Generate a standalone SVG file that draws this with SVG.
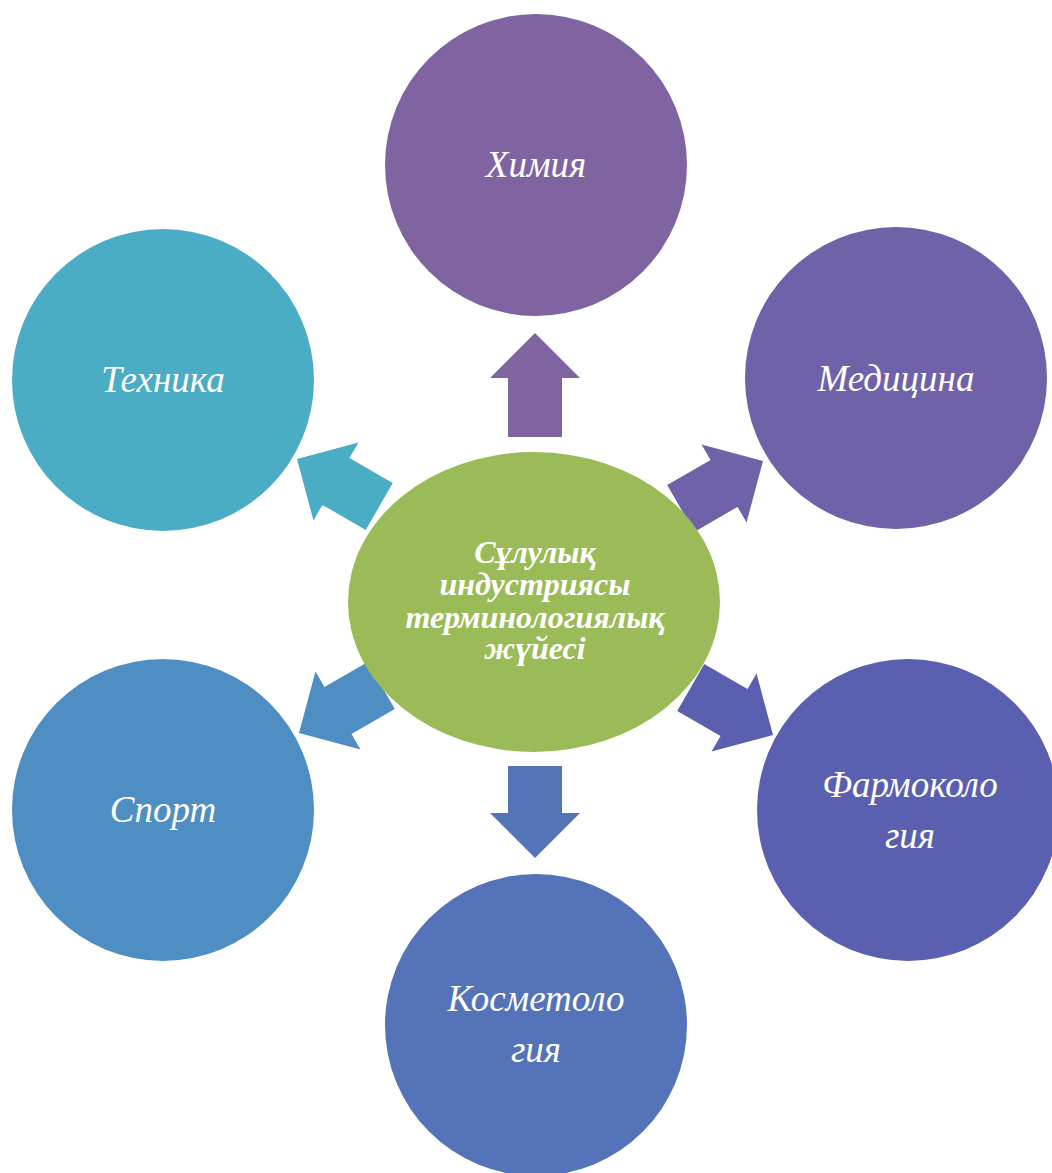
<svg xmlns="http://www.w3.org/2000/svg" width="1052" height="1173" viewBox="0 0 1052 1173">
<style>
.t{font-family:"Liberation Serif","Times New Roman",serif;font-style:italic;fill:#fff;font-size:37px;text-anchor:middle}
.c{font-family:"Liberation Serif","Times New Roman",serif;font-style:italic;font-weight:bold;fill:#fff;font-size:32px;text-anchor:middle}
</style>
<defs>
<polygon id="arr" points="0,-27 50,-27 50,-45 95,0 50,45 50,27 0,27"/>
</defs>
<rect width="1052" height="1173" fill="#fff"/>
<g id="connectors">
<polygon fill="#8064A2" points="508,437 508,378 490,378 535,333 580,378 562,378 562,437"/>
<polygon fill="#5573B9" points="508,766 508,813 490,813 535,858 580,813 562,813 562,766"/>
<use href="#arr" fill="#6F62A8" transform="translate(763,461) rotate(-30) translate(-95,0)"/>
<use href="#arr" fill="#4BACC6" transform="translate(297,459) rotate(-150) translate(-95,0)"/>
<use href="#arr" fill="#4F8EC3" transform="translate(299,733) rotate(150) translate(-95,0)"/>
<use href="#arr" fill="#5A5FB0" transform="translate(773,735) rotate(30) translate(-95,0)"/>
</g>
<g id="n-himiya"><circle cx="536" cy="165" r="151" fill="#8064A2"/><text class="t" x="536" y="177">Химия</text></g>
<g id="n-medicina"><circle cx="896" cy="378" r="151" fill="#6F62A8"/><text class="t" x="896" y="391">Медицина</text></g>
<g id="n-tehnika"><circle cx="163" cy="380" r="151" fill="#4BACC6"/><text class="t" x="163" y="392">Техника</text></g>
<g id="n-sport"><circle cx="163" cy="810" r="151" fill="#4F8EC3"/><text class="t" x="163" y="822">Спорт</text></g>
<g id="n-farm"><circle cx="908" cy="810" r="151" fill="#5A5FB0"/><text class="t" x="910" y="797">Фармоколо</text><text class="t" x="910" y="848">гия</text></g>
<g id="n-kosm"><circle cx="536" cy="1025" r="151" fill="#5573B9"/><text class="t" x="536" y="1011">Косметоло</text><text class="t" x="536" y="1062">гия</text></g>
<g id="n-center"><ellipse cx="534" cy="602" rx="186" ry="150" fill="#9BBB59"/>
<text class="c" x="535" y="563">Сұлулық</text>
<text class="c" x="535" y="595">индустриясы</text>
<text class="c" x="535" y="628">терминологиялық</text>
<text class="c" x="535" y="659">жүйесі</text></g>
</svg>
